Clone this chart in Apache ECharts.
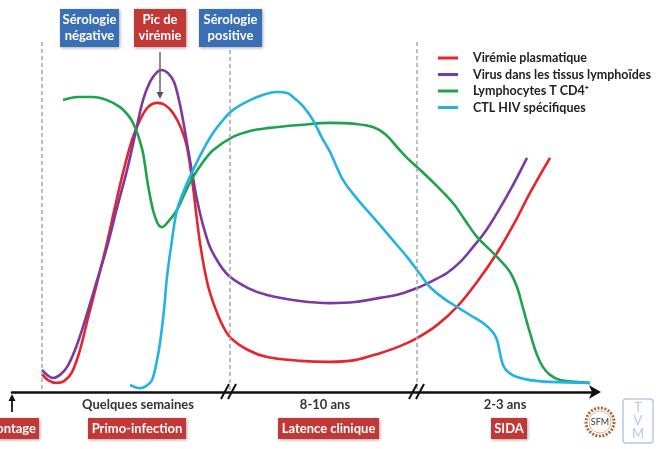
<!DOCTYPE html>
<html><head><meta charset="utf-8">
<script src="https://cdn.jsdelivr.net/npm/echarts@6/dist/echarts.min.js"></script>
<style>html,body{margin:0;padding:0;background:#fff}#c{width:660px;height:449px}</style>
</head><body><div id="c"></div>
<script>
// Time (arbitrary units along the axis) and levels (arbitrary 0-100)
const seriesNames = ['Virémie plasmatique','Virus dans les tissus lymphoïdes','Lymphocytes T CD4\u207A','CTL HIV spécifiques'];
const viremie = [[30,5.1],[36,3.4],[44,2.6],[52,3.1],[60,5.7],[68,12.0],[75,20.0],[85,31.1],[95,42.6],[103,52.9],[111,62.6],[120,72.0],[128,77.7],[136,81.4],[145,82.6],[153,82.0],[161,79.7],[169,75.4],[175,70.0],[181,58.6],[185,49.1],[188,42.6],[193,34.3],[198,28.3],[208,20.6],[218,15.7],[236,12.0],[255,10.0],[288,8.9],[318,8.6],[343,9.1],[368,11.1],[388,13.1],[405,15.4],[425,19.1],[445,24.3],[465,31.4],[485,39.7],[503,48.6],[518,56.9],[538,66.9]];
const virusTissus = [[30,6.3],[35,4.9],[41,4.0],[48,4.9],[55,7.1],[63,12.0],[71,18.6],[83,30.0],[95,41.4],[105,52.6],[115,63.4],[123,73.4],[131,83.4],[138,88.6],[145,91.4],[150,92.0],[156,91.1],[162,88.6],[167,83.4],[171,77.7],[175,71.1],[180,62.9],[185,54.9],[191,47.7],[198,41.4],[208,36.3],[218,32.9],[236,29.7],[255,27.7],[288,26.0],[318,25.4],[343,25.7],[368,26.9],[388,28.0],[405,29.7],[420,31.7],[435,34.0],[448,37.1],[461,41.4],[473,45.7],[485,51.1],[500,58.6],[515,66.9]];
const cd4 = [[51,83.4],[66,84.3],[81,84.3],[95,83.4],[108,81.4],[116,79.1],[121,76.9],[126,73.4],[131,68.3],[136,59.1],[141,52.0],[146,48.0],[150,47.1],[156,48.6],[165,52.0],[173,56.9],[181,61.4],[191,65.7],[201,69.1],[221,72.9],[238,74.6],[255,75.4],[288,76.3],[318,76.9],[343,76.6],[361,75.7],[373,73.7],[385,70.0],[395,66.9],[405,64.3],[423,59.4],[441,54.0],[453,49.1],[465,44.3],[478,40.6],[488,37.7],[498,34.3],[505,30.0],[511,24.0],[518,16.9],[525,10.6],[531,7.1],[538,4.9],[548,3.4],[563,2.9],[578,2.6]];
const ctl = [[118,2.0],[123,1.4],[128,1.1],[134,1.7],[140,3.4],[145,9.1],[148,14.0],[152,23.4],[155,32.9],[160,43.4],[165,52.0],[173,58.3],[181,63.4],[191,69.1],[201,74.0],[211,77.7],[221,80.6],[238,83.4],[253,85.1],[265,85.7],[275,85.4],[281,84.3],[291,81.7],[301,77.7],[310,72.6],[318,68.6],[331,60.6],[346,54.9],[361,50.0],[378,44.3],[395,38.6],[408,33.7],[418,30.0],[431,26.9],[445,24.3],[458,22.0],[471,19.7],[480,17.4],[485,14.9],[488,11.1],[491,7.7],[496,5.7],[505,4.3],[518,3.4],[538,2.9],[578,2.6]];
const phaseBoundaries = [[30,100],[218,97.7],[405,100]];
const periodTicks = [126, 313, 493];
const periodLabels = ['Quelques semaines','8-10 ans','2-3 ans'];
const phaseLabels = ['Contage','Primo-infection','Latence clinique','SIDA'];
const topLabels = ['Sérologie\nnégative','Pic de\nvirémie','Sérologie\npositive'];

const colors = ['#e8242a','#7a3a9e','#1ea34d','#22b2e3'];
const FONT = 'Lato, "Open Sans", sans-serif';
const chart = echarts.init(document.getElementById('c'), null, {renderer:'canvas'});

function lineSeries(name, data, color, extra){
  return Object.assign({
    name, type:'line', data, smooth:0.35, symbol:'none', silent:true,
    lineStyle:{color, width:2.6}, itemStyle:{color}, z:3
  }, extra||{});
}

function box(x,y,w,h,fill,text,fs,align){
  return {type:'group', left:x, top:y, children:[
    {type:'rect', shape:{x:0,y:0,width:w,height:h}, style:{fill:fill, shadowBlur:3, shadowColor:'rgba(0,0,0,0.35)', shadowOffsetX:1, shadowOffsetY:1}},
    {type:'text', x: align==='right' ? w-3 : w/2, y:h/2, style:{text:text, fill:'#fff', font:'bold '+(fs||13)+'px '+FONT, align: align||'center', verticalAlign:'middle', lineHeight:16}}
  ]};
}

const option = {
  animation:false,
  grid:{left:12, right:63, top:42, bottom:57},
  xAxis:{type:'value', min:0, max:585, splitLine:{show:false},
    axisLine:{onZero:false, lineStyle:{color:'#111', width:2.5}, symbol:['none','arrow'], symbolSize:[10,12], symbolOffset:[0,4]},
    axisTick:{show:false},
    axisLabel:{customValues:periodTicks, margin:6, color:'#333', fontFamily:FONT, fontWeight:'bold', fontSize:13,
      formatter:(v)=>periodLabels[periodTicks.indexOf(v)] ?? ''}
  },
  yAxis:{type:'value', min:0, max:100, show:false},
  legend:{orient:'vertical', left:433, top:46, itemWidth:20, itemHeight:3, itemGap:2.5, icon:'rect',
    textStyle:{fontFamily:FONT, fontWeight:'bold', fontSize:12.5, color:'#222', padding:[0,0,0,10], lineHeight:14},
    data:seriesNames},
  series:[
    lineSeries(seriesNames[0], viremie, colors[0], {
      markLine:{silent:true, symbol:'none', label:{show:false},
        lineStyle:{color:'#a8a8a8', type:[4,3], width:1.5},
        data: phaseBoundaries.map(p=>[{coord:[p[0],p[1]]},{coord:[p[0],0]}])}
    }),
    lineSeries(seriesNames[1], virusTissus, colors[1]),
    lineSeries(seriesNames[2], cd4, colors[2]),
    lineSeries(seriesNames[3], ctl, colors[3])
  ],
  graphic:[
    box(60,9,59,38,'#3a6fb5',topLabels[0]),
    box(134,9,52,38,'#c23836',topLabels[1]),
    box(199,9,63,38,'#3a6fb5',topLabels[2]),
    // arrow from "Pic de virémie"
    {type:'line', shape:{x1:160,y1:52,x2:160,y2:94}, style:{stroke:'#666', lineWidth:1.5}, z:10},
    {type:'polygon', shape:{points:[[156.5,92],[163.5,92],[160,99]]}, style:{fill:'#555'}, z:10},
    // axis breaks
    {type:'line', shape:{x1:221,y1:399,x2:229,y2:384}, style:{stroke:'#111', lineWidth:2}, z:10},
    {type:'line', shape:{x1:228,y1:399,x2:236,y2:384}, style:{stroke:'#111', lineWidth:2}, z:10},
    {type:'line', shape:{x1:409,y1:399,x2:417,y2:384}, style:{stroke:'#111', lineWidth:2}, z:10},
    {type:'line', shape:{x1:416,y1:399,x2:424,y2:384}, style:{stroke:'#111', lineWidth:2}, z:10},
    // up arrow at contage
    {type:'line', shape:{x1:12,y1:412,x2:12,y2:399}, style:{stroke:'#111', lineWidth:1.8}, z:10},
    {type:'polygon', shape:{points:[[8.5,401],[15.5,401],[12,394]]}, style:{fill:'#111'}, z:10},
    // phase boxes
    box(-40,418,79,21,'#c23836',phaseLabels[0],13,'right'),
    box(88,418,98,21,'#c23836',phaseLabels[1]),
    box(278,418,101,21,'#c23836',phaseLabels[2]),
    box(491,418,36,21,'#c23836',phaseLabels[3]),
    // logos
    {type:'circle', shape:{cx:600,cy:422,r:14}, style:{fill:'#fff', stroke:'#b0643a', lineWidth:3, lineDash:[2,1.5]}},
    {type:'circle', shape:{cx:600,cy:422,r:11}, style:{fill:'#fff', stroke:'#d9b59a', lineWidth:1}},
    {type:'text', x:600, y:422, style:{text:'SFM', fill:'#333', font:'9px '+FONT, align:'center', verticalAlign:'middle'}},
    {type:'rect', shape:{x:623,y:399,width:30,height:44,r:3}, style:{fill:'#fff', stroke:'#b9c7e6', lineWidth:1.5}},
    {type:'text', x:638, y:421, style:{text:'T\nV\nM', fill:'#b9c7e6', font:'13px '+FONT, align:'center', verticalAlign:'middle', lineHeight:13}}
  ]
};
chart.setOption(option);
</script></body></html>
